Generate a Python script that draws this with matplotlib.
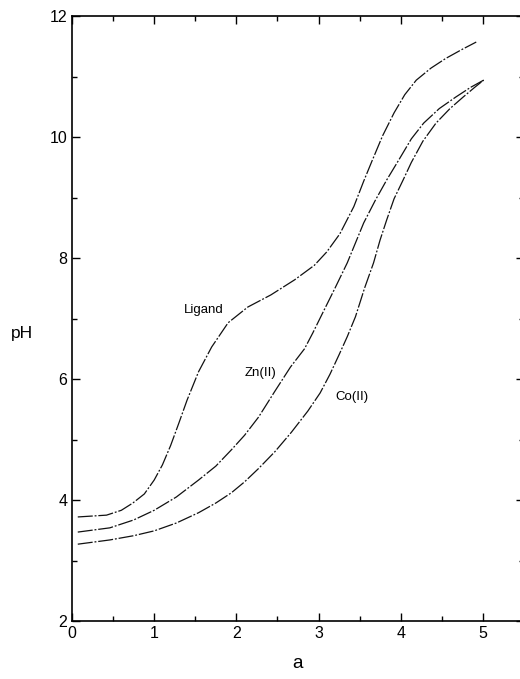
import matplotlib.pyplot as plt
from matplotlib.ticker import MultipleLocator

plt.rcParams['font.family'] = ['Liberation Sans', 'DejaVu Sans']

# 数据
lig_a = [0.07, 0.42, 0.6, 0.74, 0.88, 1.0, 1.1, 1.2, 1.3, 1.4, 1.54, 1.7, 1.9, 2.14,
         2.42, 2.71, 2.95, 3.1, 3.26, 3.43, 3.55, 3.65, 3.78, 3.92,
         4.05, 4.19, 4.37, 4.55, 4.75, 4.92]
lig_ph = [3.72, 3.75, 3.83, 3.95, 4.1, 4.33, 4.58, 4.9, 5.27, 5.65, 6.12, 6.53, 6.93, 7.19,
          7.39, 7.64, 7.88, 8.1, 8.4, 8.85, 9.27, 9.6, 10.02, 10.4,
          10.7, 10.94, 11.14, 11.3, 11.45, 11.57]

zn_a = [0.07, 0.46, 0.75, 1.0, 1.27, 1.54, 1.75, 1.94, 2.1, 2.27, 2.47, 2.66, 2.83, 2.93,
        3.05, 3.2, 3.35, 3.55, 3.69, 3.83, 3.99, 4.13, 4.28, 4.47, 4.67, 4.85, 5.01]
zn_ph = [3.47, 3.54, 3.67, 3.83, 4.05, 4.33, 4.56, 4.83, 5.07, 5.37, 5.8, 6.2, 6.5, 6.76,
         7.09, 7.5, 7.92, 8.58, 8.95, 9.29, 9.65, 9.97, 10.23, 10.47, 10.66, 10.82, 10.94]

co_a = [0.07, 0.46, 0.75, 1.0, 1.27, 1.54, 1.75, 1.94, 2.1, 2.27, 2.47, 2.67, 2.87, 3.02,
        3.14, 3.25, 3.35, 3.45, 3.56, 3.67, 3.75, 3.83, 3.92, 4.03, 4.13, 4.27, 4.43, 4.6,
        4.76, 4.9, 5.01]
co_ph = [3.27, 3.34, 3.41, 3.49, 3.62, 3.79, 3.95, 4.12, 4.3, 4.52, 4.8, 5.12, 5.47, 5.77,
         6.08, 6.4, 6.7, 7.03, 7.5, 7.92, 8.3, 8.63, 8.98, 9.29, 9.58, 9.93, 10.23, 10.47,
         10.66, 10.82, 10.94]

fig = plt.figure(figsize=(5.2, 6.79), dpi=100)
ax = fig.add_axes([0.1385, 0.0854, 0.869, 0.891])

ls = (0, (12, 1.5, 1.5, 1.5))
ax.plot(lig_a, lig_ph, color='#111111', lw=0.9, linestyle=ls)
ax.plot(zn_a, zn_ph, color='#111111', lw=0.9, linestyle=ls)
ax.plot(co_a, co_ph, color='#111111', lw=0.9, linestyle=ls)

# 曲线标注
ax.text(1.6, 7.14, 'Ligand', fontsize=9.5, ha='center', va='center')
ax.text(2.29, 6.1, 'Zn(II)', fontsize=9.5, ha='center', va='center')
ax.text(3.41, 5.7, 'Co(II)', fontsize=9.5, ha='center', va='center')

ax.set_xlim(0, 5.5)
ax.set_ylim(2, 12)
ax.xaxis.set_major_locator(MultipleLocator(1))
ax.xaxis.set_minor_locator(MultipleLocator(0.5))
ax.yaxis.set_major_locator(MultipleLocator(2))
ax.yaxis.set_minor_locator(MultipleLocator(1))
ax.tick_params(which='both', direction='in', top=True, right=True, labelsize=11.5,
               width=1)
ax.tick_params(which='major', length=6)
ax.tick_params(which='minor', length=3.5)
for sp in ax.spines.values():
    sp.set_linewidth(1.2)

ax.set_xlabel('a', fontsize=13.5, labelpad=10)
ax.set_ylabel('pH', fontsize=12.5, rotation=0, va='center', ha='center')
ax.yaxis.set_label_coords(-0.11, 0.476)

plt.savefig('out.png', dpi=100)
